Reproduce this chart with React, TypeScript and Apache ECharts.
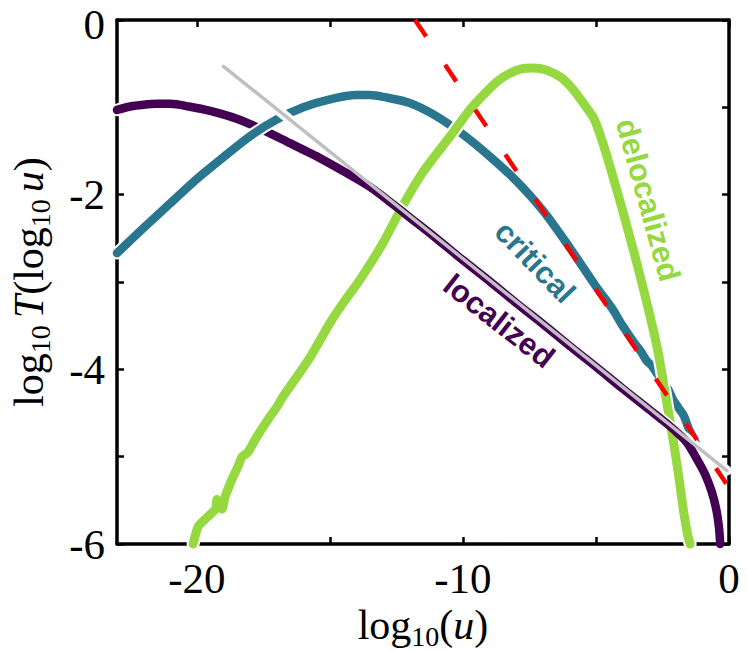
import React, { useEffect, useRef } from "react";
import * as echarts from "echarts";

// ---- data ----
const xTickValues = [-20, -15, -10, -5, 0];
const xLabelValues = [-20, -10, 0];
const yLabelValues = [-6, -4, -2, 0];

const localized: number[][] = [
  [-23, -1.03], [-22.5, -0.99], [-22, -0.97], [-21.5, -0.96], [-21, -0.96],
  [-20.3, -0.99], [-19.5, -1.04], [-18.5, -1.13], [-17.5, -1.26], [-16.5, -1.41],
  [-15.5, -1.56], [-14.5, -1.73], [-13.5, -1.91], [-12.5, -2.14], [-12, -2.26],
  [-11, -2.5], [-10, -2.75], [-9, -2.99], [-8, -3.24], [-7, -3.48], [-6, -3.73],
  [-5, -3.97], [-4, -4.22], [-3, -4.46], [-2.5, -4.58], [-2, -4.71], [-1.6, -4.83],
  [-1.2, -5.03], [-0.9, -5.2], [-0.65, -5.4], [-0.48, -5.6], [-0.38, -5.8], [-0.33, -6],
];

const critical: number[][] = [
  [-23, -2.67], [-22, -2.38], [-21, -2.1], [-20, -1.82], [-19, -1.57], [-18, -1.33],
  [-17, -1.14], [-16, -1.0], [-15, -0.91], [-14, -0.86], [-13.5, -0.86], [-13, -0.88],
  [-12, -0.95], [-11, -1.1], [-10, -1.31], [-9, -1.56], [-8, -1.84], [-7, -2.18],
  [-6, -2.6], [-5, -3.05], [-4.4, -3.3], [-4, -3.5], [-3.6, -3.68], [-3.3, -3.8],
  [-3.1, -3.9], [-2.9, -3.96], [-2.7, -4.05], [-2.5, -4.13], [-2.3, -4.22],
  [-2.1, -4.35], [-1.9, -4.44], [-1.7, -4.53], [-1.5, -4.69], [-1.35, -4.78], [-1.2, -4.88],
];

const delocalized: number[][] = [
  [-20.14, -6], [-19.95, -5.8], [-19.6, -5.69], [-19.3, -5.6], [-19.24, -5.49],
  [-19.05, -5.6], [-18.94, -5.46], [-18.68, -5.26], [-18.45, -5.11], [-18.3, -5.0],
  [-18.08, -4.95], [-17.74, -4.77], [-17.25, -4.54], [-16.99, -4.43], [-16.76, -4.31],
  [-16.23, -4.08], [-15.74, -3.86], [-15, -3.47], [-14.5, -3.24], [-13.86, -2.97],
  [-13, -2.55], [-12.25, -2.12], [-11.5, -1.74], [-10.5, -1.34], [-9.8, -1.05],
  [-9.24, -0.86], [-8.7, -0.7], [-8.23, -0.61], [-7.8, -0.56], [-7.36, -0.55],
  [-6.9, -0.57], [-6.35, -0.65], [-5.9, -0.78], [-5.48, -0.95], [-5.07, -1.13],
  [-4.75, -1.4], [-4.47, -1.68], [-3.98, -2.2], [-3.45, -2.8], [-2.96, -3.4],
  [-2.66, -3.81], [-2.4, -4.27], [-2.14, -4.73], [-1.9, -5.2], [-1.72, -5.6],
  [-1.55, -5.9], [-1.46, -6],
];

const powerLawFit: number[][] = [[-19, -0.53], [-0.08, -5.16]];
const asymptote: number[][] = [[-11.8, 0], [-0.1, -5.31]];

const PURPLE = "#440154";
const TEAL = "#2a768e";
const GREEN = "#95d840";
const GRAY = "#c0c0c0";
const RED = "#ff0000";

const SERIF = "Liberation Serif";
const SANS = "Liberation Sans";

function lineSeries(data: number[][], color: string, width: number, smooth: number = 0) {
  return {
    type: "line",
    data,
    showSymbol: false,
    symbol: "none",
    clip: false,
    silent: true,
    smooth,
    lineStyle: { color, width, cap: "round", join: "round" },
  };
}

function withHalo(data: number[][], color: string, width: number, smooth: number) {
  return [lineSeries(data, "#ffffff", width + 4, smooth), lineSeries(data, color, width, smooth)];
}

const titleRich = {
  m: { fontFamily: SERIF, fontSize: 42, lineHeight: 50, color: "#000" },
  i: { fontFamily: SERIF, fontSize: 42, lineHeight: 50, color: "#000", fontStyle: "italic" },
  s: { fontFamily: SERIF, fontSize: 28, lineHeight: 28, color: "#000", verticalAlign: "bottom" },
};

export default function App() {
  const ref = useRef<HTMLDivElement>(null);

  useEffect(() => {
    document.body.style.margin = "0";
    if (!ref.current) return;
    const chart = echarts.init(ref.current, undefined, { renderer: "svg" });

    const splitX = -15.5;
    const locLeft = localized.filter((p) => p[0] <= splitX);
    const locRight = localized.filter((p) => p[0] >= splitX);

    const axisLineStyle = { color: "#000", width: 3.5 };
    const tickStyle = { color: "#000", width: 2.5 };

    const xBase = {
      type: "value",
      min: -23,
      max: 0,
      splitLine: { show: false },
      axisLine: { show: true, onZero: false, lineStyle: axisLineStyle },
      axisTick: { show: true, inside: true, length: 7, lineStyle: tickStyle, customValues: xTickValues },
    };
    const yBase = {
      type: "value",
      min: -6,
      max: 0,
      interval: 1,
      splitLine: { show: false },
      axisLine: { show: true, onZero: false, lineStyle: axisLineStyle },
      axisTick: { show: true, inside: true, length: 7, lineStyle: tickStyle },
    };

    const curveLabels = [
      { text: "delocalized", color: GREEN, px: 648, py: 200, angle: -74.5 },
      { text: "critical", color: TEAL, px: 535, py: 262, angle: -46 },
      { text: "localized", color: PURPLE, px: 499, py: 321, angle: -38 },
    ];

    chart.setOption({
      animation: false,
      grid: { left: 117, right: 18, top: 20, bottom: 108, containLabel: false, outerBoundsMode: "none" },
      xAxis: [
        {
          ...xBase,
          position: "bottom",
          axisLabel: {
            customValues: xLabelValues,
            fontFamily: SERIF,
            fontSize: 43,
            lineHeight: 40,
            color: "#000",
            margin: 14,
          },
          name: "{m|log}{s|10}{m|(}{i|u}{m|)}",
          nameLocation: "middle",
          nameGap: 54,
          nameTextStyle: { rich: titleRich },
        },
        { ...xBase, position: "top", axisLabel: { show: false } },
      ],
      yAxis: [
        {
          ...yBase,
          position: "left",
          axisLabel: {
            customValues: yLabelValues,
            fontFamily: SERIF,
            fontSize: 43,
            lineHeight: 38,
            color: "#000",
            margin: 12,
            formatter: (v: number) => (v === 0 ? "{t|0}" : "{n|" + String(v) + "}"),
            rich: {
              t: { fontFamily: SERIF, fontSize: 43, lineHeight: 38, color: "#000", padding: [8, 0, 0, 0] },
              n: { fontFamily: SERIF, fontSize: 43, lineHeight: 38, color: "#000" },
            },
          },
          name: "{m|log}{s|10}{s| }{i|T}{m|(log}{s|10}{s| }{i|u}{m|)}",
          nameLocation: "middle",
          nameRotate: 90,
          nameGap: 63,
          nameTextStyle: { rich: titleRich },
        },
        { ...yBase, position: "right", axisLabel: { show: false } },
      ],
      series: [
        ...withHalo(locLeft, PURPLE, 8.5, 0.3),
        ...withHalo(critical, TEAL, 8.5, 0.3),
        ...withHalo(delocalized, GREEN, 9, 0.2),
        lineSeries(powerLawFit, "#ffffff", 10),
        lineSeries(locRight, PURPLE, 8.5, 0.3),
        lineSeries(powerLawFit, GRAY, 3.5),
        {
          ...lineSeries(asymptote, RED, 4.5),
          lineStyle: { color: RED, width: 4.5, type: [20, 34], cap: "butt" },
        },
      ],
      graphic: curveLabels.map((l) => ({
        type: "text",
        x: l.px,
        y: l.py,
        rotation: (l.angle * Math.PI) / 180,
        z: 100,
        style: {
          text: l.text,
          fill: l.color,
          fontFamily: SANS,
          fontSize: 31,
          fontWeight: "bold",
          align: "center",
          verticalAlign: "middle",
          textAlign: "center",
          textVerticalAlign: "middle",
        },
      })),
    });

    return () => chart.dispose();
  }, []);

  return <div ref={ref} style={{ width: 747, height: 652 }} />;
}
